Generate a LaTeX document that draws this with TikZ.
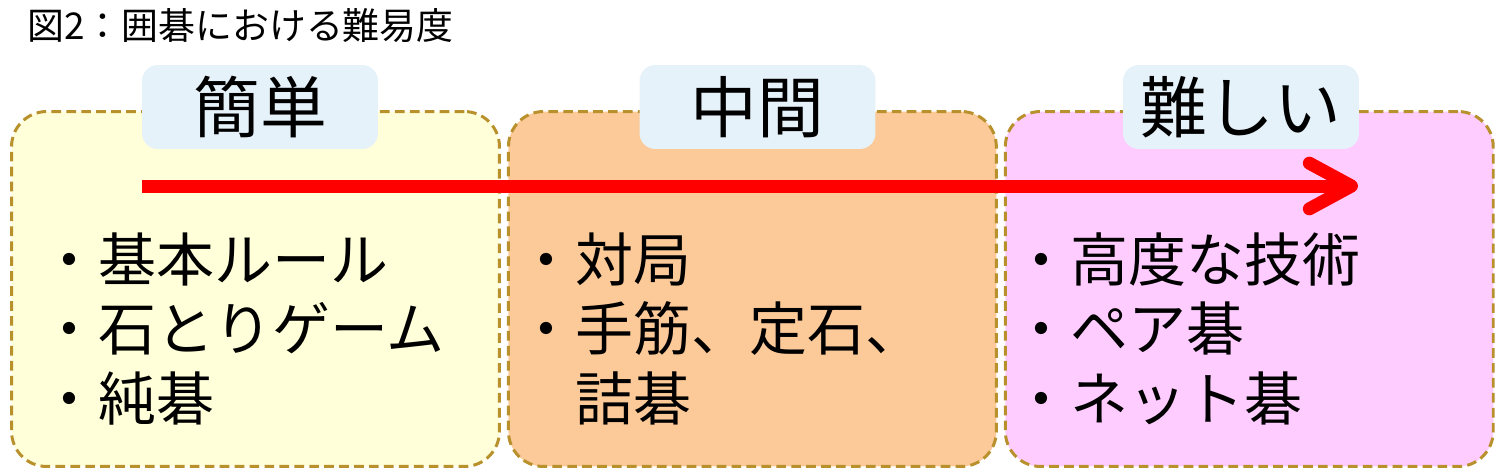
\documentclass[tikz,border=0pt]{standalone}
\usepackage{fontspec}
\setmainfont{Noto Sans CJK JP}
\usepackage{xcolor}
\usetikzlibrary{positioning, arrows.meta}
\definecolor{easyfill}{HTML}{FFFFD9}
\definecolor{midfill}{HTML}{FCC998}
\definecolor{hardfill}{HTML}{FFCCFF}
\definecolor{dashline}{HTML}{B8902C}
\definecolor{tagfill}{HTML}{E6F2FA}
\definecolor{arrowred}{HTML}{FF0000}
\tikzset{
  levelbox/.style={draw=dashline, line width=1.7pt, dash pattern=on 5.5pt off 3pt,
    rounded corners=20pt, minimum width=9.76cm, minimum height=7.1cm, inner sep=0pt},
  tag/.style={fill=tagfill, rounded corners=9pt, minimum width=4.72cm,
    minimum height=1.68cm, inner sep=0pt, font=\fontsize{38}{38}\selectfont},
  items/.style={align=left, anchor=north west, inner sep=0pt,
    font=\fontsize{33}{39.7}\selectfont},
}

\begin{document}
\begin{tikzpicture}[x=0.02cm, y=-0.02cm]
        \useasboundingbox (0,0) rectangle (1500,474);
        \node (title) [anchor=west, inner sep=0pt, font=\fontsize{21}{21}\selectfont] at (27,26) {図2：囲碁における難易度};

        \node (easy) [levelbox, fill=easyfill] at (255.5,289) {};
        \node (mid) [levelbox, fill=midfill, right=0.12cm of easy] {};
        \node (hard) [levelbox, fill=hardfill, right=0.12cm of mid] {};

        \node (easytag) [tag] at (260,107) {簡単};
        \node (midtag) [tag] at (757.5,107) {中間};
        \node (hardtag) [tag] at (1241,107) {難しい};

        \coordinate (start) at (142,186);
        \coordinate (goal) at (1358,186);
        \draw [arrowred, line width=7.4pt, -{Straight Barb[length=24pt, width=26pt, round]}] (start) -- (goal);

        \node (easyitems) [items] at (40,232) {・基本ルール\\・石とりゲーム\\・純碁};
        \node (miditems) [items] at (517,232) {・対局\\・手筋、定石、\\\phantom{・}詰碁};
        \node (harditems) [items] at (1012,232) {・高度な技術\\・ペア碁\\・ネット碁};
    \end{tikzpicture}
\end{document}
